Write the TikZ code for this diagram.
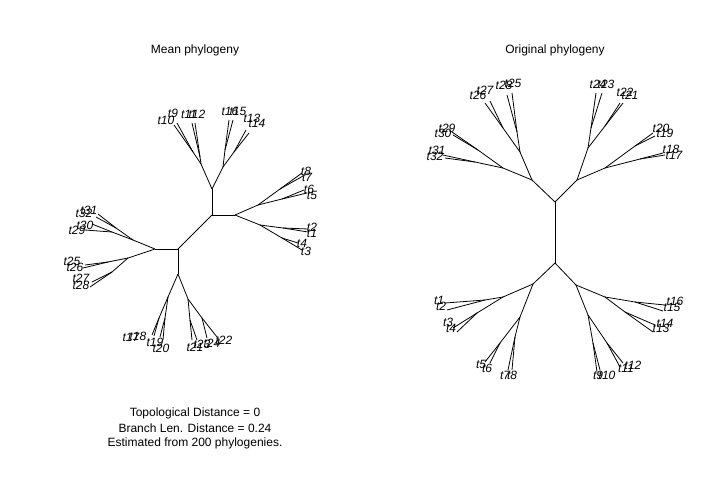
\documentclass[tikz,border=0pt]{standalone}
\usepackage{fontspec}
\setmainfont{Liberation Sans}
\usepackage{tikz}
\usetikzlibrary{positioning, calc}

\tikzset{
  branche/.style={line width=0.8pt, black},
  tiplab/.style={font=\fontsize{12}{12}\selectfont\itshape, inner sep=0pt},
  titre/.style={font=\fontsize{12}{12}\selectfont, inner sep=0pt}
}

\begin{document}
\begin{tikzpicture}[x=1pt, y=-1pt]
  \useasboundingbox[fill=white] (0,0) rectangle (720,480);

  % Titres
  \node[titre] (tmean) at (195,50) {Mean phylogeny};
  \node[titre] (torig) at (555,50) {Original phylogeny};

  % Arbre moyen : noeuds internes
  \foreach \n/\x/\y in {mA/212/215, mB/235/215, mC/212/189, mE/178/249, mF/155/249, mG/178/274,
      mH/201/164, mI/223/167, mH1/193/152, mH2/200/157, mI1/225/150, mI2/234/152,
      mJ/258/205, mK/260/225, mJ1/280/189, mJ2/282/199, mK1/283/228, mK2/282/238,
      mL/133/240, mM/128/258, mL1/116/228, mL2/112/232, mM1/108/262, mM2/112/272,
      mN/168/297, mO/188/299, mN1/159/318, mN2/165/318, mO1/190/320, mO2/202/318}
    \coordinate (\n) at (\x,\y);
  % Arbre moyen : feuilles
  \foreach \n/\x/\y in {m9/177/123, m10/174/125, m11/192/123, m12/195/123, m13/246/130, m14/249/133,
      m15/233/120, m16/229/120, m1/308/232, m2/308/229, m3/302/250, m4/298/243,
      m5/307/193, m6/304/190, m7/303/176, m8/302/173, m25/85/265, m26/83/268,
      m27/92/282, m28/90/287, m29/85/230, m30/92/224, m31/98/214, m32/96/217,
      m17/152/335, m18/154/336, m19/160/337, m20/163/340, m21/192/340, m22/217/337,
      m23/197/340, m24/207/338}
    \coordinate (\n) at (\x,\y);

  \foreach \a/\b in {mC/mA, mA/mB, mA/mE, mE/mF, mE/mG,
      mC/mH, mC/mI, mH/mH1, mH/mH2, mH1/m9, mH1/m10, mH2/m11, mH2/m12,
      mI/mI1, mI/mI2, mI1/m15, mI1/m16, mI2/m13, mI2/m14,
      mB/mJ, mB/mK, mJ/mJ1, mJ/mJ2, mJ1/m7, mJ1/m8, mJ2/m5, mJ2/m6,
      mK/mK1, mK/mK2, mK1/m1, mK1/m2, mK2/m3, mK2/m4,
      mF/mL, mF/mM, mL/mL1, mL/mL2, mL1/m31, mL1/m32, mL2/m29, mL2/m30,
      mM/mM1, mM/mM2, mM1/m25, mM1/m26, mM2/m27, mM2/m28,
      mG/mN, mG/mO, mN/mN1, mN/mN2, mN1/m17, mN1/m18, mN2/m19, mN2/m20,
      mO/mO1, mO/mO2, mO1/m21, mO1/m23, mO2/m22, mO2/m24}
    \draw[branche] (\a) -- (\b);

  \foreach \n/\t/\x/\y in {ml10/t10/166/120, ml9/t9/173/113, ml11/t11/189/114, ml12/t12/197/114,
      ml16/t16/230/111, ml15/t15/238/111, ml13/t13/252/118, ml14/t14/257/123,
      ml8/t8/306/171, ml7/t7/307/177, ml6/t6/309/189, ml5/t5/312/195,
      ml2/t2/312/227, ml1/t1/312/233, ml4/t4/302/243, ml3/t3/306/251,
      ml31/t31/89/210, ml32/t32/84/213, ml30/t30/85/225, ml29/t29/77/230,
      ml25/t25/72/261, ml26/t26/75/267, ml27/t27/81/278, ml28/t28/81/285,
      ml17/t17/131/337, ml18/t18/138/336, ml19/t19/155/342, ml20/t20/161/348,
      ml21/t21/195/347, ml23/t23/202/344, ml24/t24/212/343, ml22/t22/224/340}
    \node[tiplab] (\n) at (\x,\y) {\t};

  % Arbre original : noeuds internes
  \foreach \n/\x/\y in {oA/555/202, oB/555/263, oQ/532/180, oS/577/180, oX/533/284, oY/576/285,
      oU1/520/152, oU2/503/168, oV1/517/132, oV2/503/128, oW1/478/150, oW2/475/162,
      oT1/588/148, oT2/605/168, oT11/591/128, oT12/605/126, oT21/635/146, oT22/640/159,
      oZ1/503/297, oZ2/520/317, oZ11/485/300, oZ12/477/313, oZ21/500/343, oZ22/515/337,
      oR1/605/297, oR2/588/315, oR11/635/302, oR12/625/312, oR21/593/343, oR22/607/343}
    \coordinate (\n) at (\x,\y);
  % Arbre original : feuilles
  \foreach \n/\x/\y in {o25/512/93, o26/485/103, o27/490/101, o28/507/95, o29/452/132, o30/453/135,
      o31/443/155, o32/445/158, o17/665/155, o18/663/153, o19/655/136, o20/653/133,
      o21/623/103, o22/620/103, o23/602/93, o24/596/93, o1/445/303, o2/447/310,
      o3/453/328, o4/457/332, o5/485/362, o6/490/363, o7/508/370, o8/512/370,
      o9/597/372, o10/600/370, o11/620/367, o12/623/363, o13/653/332, o14/655/325,
      o15/663/311, o16/665/305}
    \coordinate (\n) at (\x,\y);

  \foreach \a/\b in {oA/oB, oA/oQ, oA/oS, oB/oX, oB/oY,
      oQ/oU1, oQ/oU2, oU1/oV1, oU1/oV2, oV1/o25, oV1/o28, oV2/o26, oV2/o27,
      oU2/oW1, oU2/oW2, oW1/o29, oW1/o30, oW2/o31, oW2/o32,
      oS/oT1, oS/oT2, oT1/oT11, oT1/oT12, oT11/o23, oT11/o24, oT12/o21, oT12/o22,
      oT2/oT21, oT2/oT22, oT21/o19, oT21/o20, oT22/o17, oT22/o18,
      oX/oZ1, oX/oZ2, oZ1/oZ11, oZ1/oZ12, oZ11/o1, oZ11/o2, oZ12/o3, oZ12/o4,
      oZ2/oZ21, oZ2/oZ22, oZ21/o5, oZ21/o6, oZ22/o7, oZ22/o8,
      oY/oR1, oY/oR2, oR1/oR11, oR1/oR12, oR11/o15, oR11/o16, oR12/o13, oR12/o14,
      oR2/oR21, oR2/oR22, oR21/o9, oR21/o10, oR22/o11, oR22/o12}
    \draw[branche] (\a) -- (\b);

  \foreach \n/\t/\x/\y in {ol26/t26/478/95, ol27/t27/485/90, ol28/t28/504/85, ol25/t25/513/83,
      ol29/t29/447/128, ol30/t30/443/133, ol31/t31/437/150, ol32/t32/435/156,
      ol24/t24/598/84, ol23/t23/606/84, ol22/t22/625/92, ol21/t21/630/95,
      ol20/t20/661/128, ol19/t19/665/133, ol18/t18/671/149, ol17/t17/674/155,
      ol1/t1/439/300, ol2/t2/441/306, ol3/t3/448/322, ol4/t4/451/328,
      ol5/t5/481/364, ol6/t6/487/368, ol7/t7/505/375, ol8/t8/512/375,
      ol16/t16/675/301, ol15/t15/672/307, ol14/t14/665/323, ol13/t13/661/328,
      ol12/t12/633/365, ol11/t11/626/368, ol10/t10/607/375, ol9/t9/598/375}
    \node[tiplab] (\n) at (\x,\y) {\t};

  % Legende
  \node[titre] (dtopo) at (195,413) {Topological Distance = 0};
  \node[titre] (dbl) at (195,428) {Branch Len. Distance = 0.24};
  \node[titre] (dest) at (195,443) {Estimated from 200 phylogenies.};
\end{tikzpicture}
\end{document}
